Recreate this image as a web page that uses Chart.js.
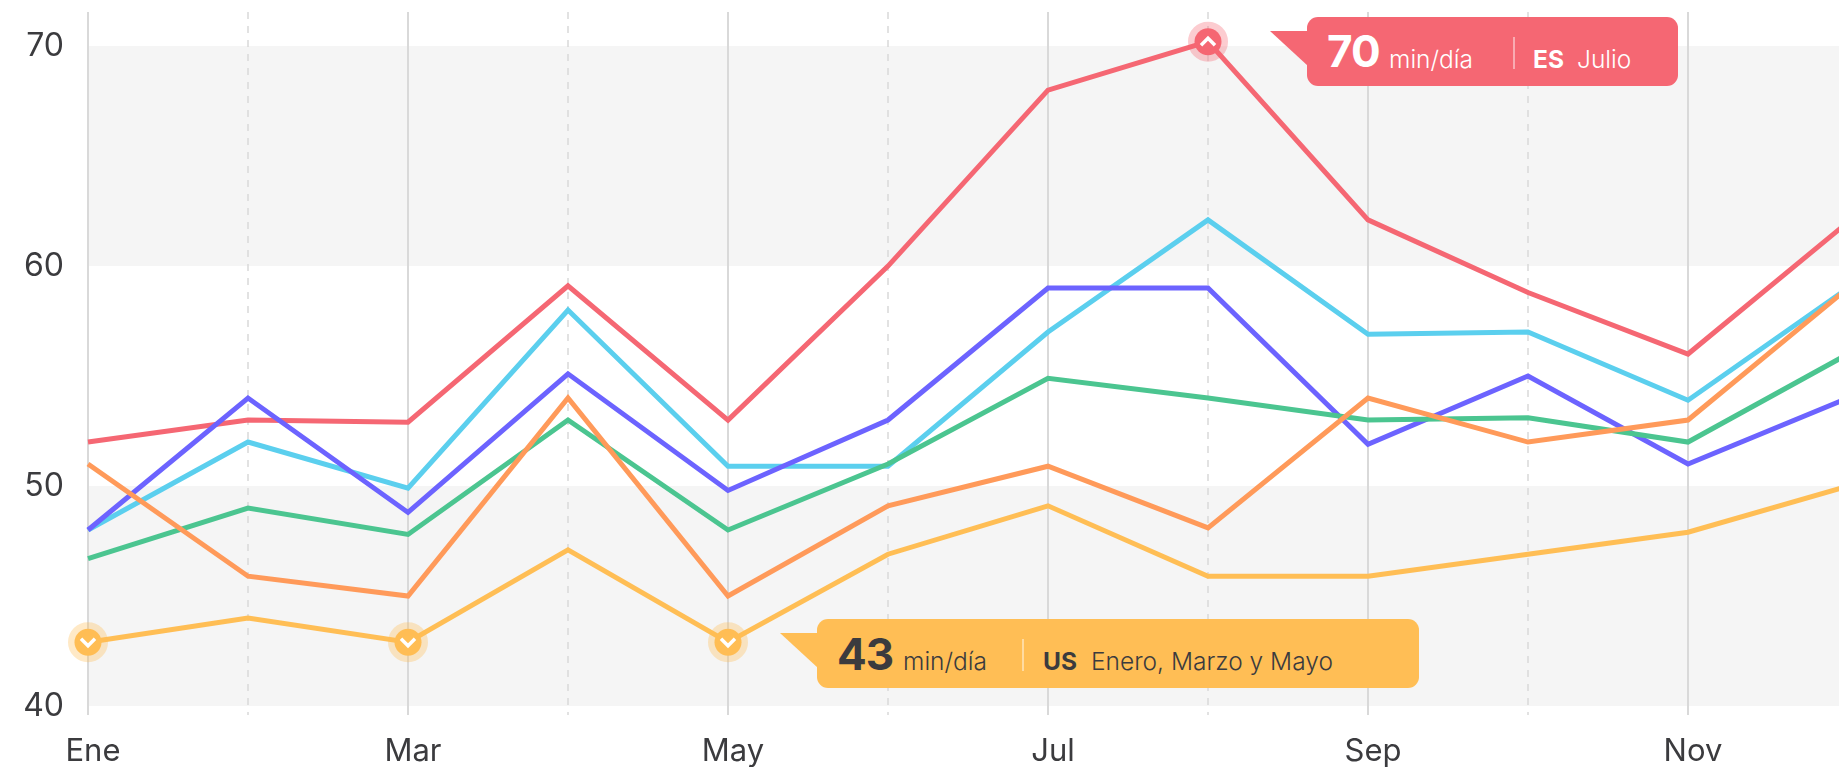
<!DOCTYPE html>
<html><head><meta charset="utf-8">
<script src="https://cdn.jsdelivr.net/npm/chart.js@4"></script>
<style>
html,body{margin:0;padding:0;width:1839px;height:767px;overflow:hidden;background:#fff;font-family:Inter,sans-serif}
#wrap{position:relative;width:1839px;height:767px;overflow:hidden}
canvas{position:absolute;left:0;top:0}
.tip{position:absolute;border-radius:11px;height:69px;box-sizing:border-box}
.tail{position:absolute;width:38px;height:35px;top:14px;left:-37px;clip-path:polygon(0 0,100% 0,100% 100%)}
.tip span{position:absolute;white-space:nowrap;line-height:1}
.sep{position:absolute;width:2px;height:32px;top:20px;background:rgba(255,255,255,.45)}
</style></head><body>
<div id="wrap"><canvas id="c" width="1848" height="767"></canvas></div>
<script>
const months=['Ene','Feb','Mar','Abr','May','Jun','Jul','Ago','Sep','Oct','Nov','Dic'];
const yTicks=[40,50,60,70];
const ES=[52,53,52.9,59.1,53,60,68,70.2,62.1,58.8,56,62];
const CA=[48,52,49.9,58,50.9,50.9,57,62.1,56.9,57,53.9,59];
const FR=[48,54,48.8,55.1,49.8,53,59,59,51.9,55,51,54];
const DE=[46.7,49,47.8,53,48,51,54.9,54,53,53.1,52,56];
const UK=[51,45.9,45,54,45,49.1,50.9,48.1,54,52,53,59];
const US=[42.9,44,42.9,47.1,42.9,46.9,49.1,45.9,45.9,46.9,47.9,50];
const markersUS=[0,2,4];
const markersES=[7];
const RED='#F56773',CYAN='#5BCFEE',BLUE='#6C63FF',GREEN='#4BC590',ORANGE='#FF9A5A',YEL='#FFBE55';
const TXT='#3b3b3e',GRID='#d9d9d9',BAND='#f5f5f5';
const FONT='Inter';
function ds(label,data,color,marks){return{label,data,borderColor:color,backgroundColor:color,borderWidth:5,tension:0,clip:false,
  pointRadius:c=>marks.includes(c.dataIndex)?13.5:0,
  pointBorderWidth:c=>marks.includes(c.dataIndex)?13:0,
  pointBorderColor:color+'55',pointBackgroundColor:color,marks,
  up:color===RED};}
const deco={id:'deco',
 beforeDraw(ch){const{ctx,scales:{x,y},chartArea:a}=ch;ctx.save();ctx.fillStyle=BAND;
  [[40,50],[60,70]].forEach(([l,h])=>{const t=y.getPixelForValue(h),b=y.getPixelForValue(l);ctx.fillRect(a.left,t,a.right-a.left,b-t);});
  ctx.restore();},
 beforeDatasetsDraw(ch){const{ctx,scales:{x},chartArea:a}=ch;ctx.save();ctx.strokeStyle=GRID;ctx.lineWidth=1.5;ctx.setLineDash([7,7]);
  months.forEach((m,i)=>{if(i%2){const p=Math.round(x.getPixelForValue(i));ctx.beginPath();ctx.moveTo(p,a.top);ctx.lineTo(p,a.bottom+9);ctx.stroke();}});
  ctx.restore();},
 afterDatasetsDraw(ch){const{ctx}=ch;ctx.save();ctx.strokeStyle='#fff';ctx.lineWidth=3.5;ctx.lineCap='butt';
  ch.data.datasets.forEach((d,di)=>{const meta=ch.getDatasetMeta(di);d.marks.forEach(i=>{const p=meta.data[i];const s=d.up?-1:1;
   ctx.beginPath();ctx.moveTo(p.x-7,p.y-3.5*s);ctx.lineTo(p.x,p.y+3.5*s);ctx.lineTo(p.x+7,p.y-3.5*s);ctx.stroke();});});
  ctx.restore();}
};
const chart=new Chart(document.getElementById('c'),{type:'line',
 data:{labels:months,datasets:[ds('US',US,YEL,markersUS),ds('UK',UK,ORANGE,[]),ds('DE',DE,GREEN,[]),ds('FR',FR,BLUE,[]),ds('CA',CA,CYAN,[]),ds('ES',ES,RED,markersES)]},
 plugins:[deco],
 options:{responsive:false,animation:false,events:[],layout:{autoPadding:false,padding:{top:12,left:0,right:0,bottom:0}},
  plugins:{legend:{display:false},tooltip:{enabled:false}},
  scales:{
   x:{offset:false,border:{display:false},
    afterFit(s){s.height=61;s.paddingLeft=0;s.paddingRight=0;},
    grid:{color:c=>c.index%2?'transparent':GRID,lineWidth:2,tickLength:9,drawTicks:true,tickColor:c=>c.index%2?'transparent':GRID,tickWidth:2},
    ticks:{autoSkip:false,maxRotation:0,minRotation:0,labelOffset:5,padding:18,color:TXT,font:{family:FONT,size:31},
      callback(v,i){return i%2?'':months[i];}}},
   y:{min:40,max:71.55,border:{display:false},grid:{display:false,drawTicks:false},
    afterFit(s){s.width=88;s.paddingTop=0;s.paddingBottom=0;},
    afterBuildTicks(s){s.ticks=yTicks.map(value=>({value}));},
    ticks:{padding:24,color:TXT,font:{family:FONT,size:32},autoSkip:false}}
  }}});
function callout(color,textColor,pxDs,idx,dx,topPx,w,items){
 const p=chart.getDatasetMeta(pxDs).data[idx];
 const b=document.createElement('div');b.className='tip';b.style.cssText+=`left:${Math.round(p.x+dx)}px;top:${topPx}px;width:${w}px;background:${color};color:${textColor}`;
 b.innerHTML=`<div class="tail" style="background:${color}"></div>`+items;
 document.getElementById('wrap').appendChild(b);
}
const sp=(l,t,s,wt,txt,ls)=>`<span style="left:${l}px;top:${t}px;font-size:${s}px;font-weight:${wt};letter-spacing:${ls||0}px">${txt}</span>`;
callout(RED,'#fff',5,7,99,17,371,
 sp(20,12,44,700,'70',-1)+sp(82,30,24.5,300,'min/día')+'<div class="sep" style="left:206px"></div>'+sp(226,30,24.5,700,'ES')+sp(270,30,24.5,300,'Julio'));
callout(YEL,TXT,0,4,89,619,602,
 sp(20,13,44,700,'43',-1)+sp(86,30,24.5,300,'min/día')+'<div class="sep" style="left:205px"></div>'+sp(226,30,24.5,700,'US')+sp(274,30,24.5,300,'Enero, Marzo y Mayo'));
</script></body></html>
